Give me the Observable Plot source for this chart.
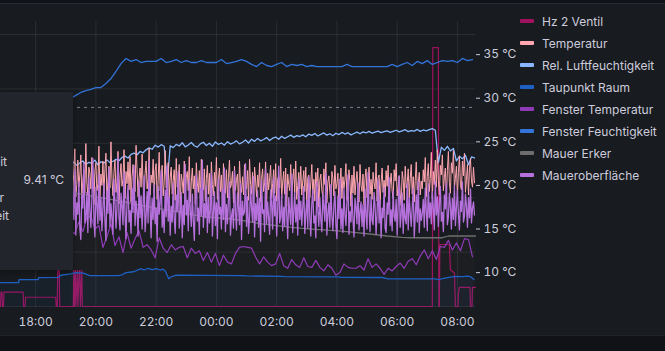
<!DOCTYPE html>
<html><head><meta charset="utf-8">
<script src="https://cdn.jsdelivr.net/npm/d3@7"></script>
<script src="https://cdn.jsdelivr.net/npm/@observablehq/plot@0.6"></script>
<style>
html,body{margin:0;padding:0;background:#111217;width:665px;height:351px;overflow:hidden;font-family:Inter,"Noto Sans",sans-serif;}
#wrap{position:relative;width:665px;height:351px;overflow:hidden;}
#panel{position:absolute;left:-2px;top:3px;width:672px;height:333px;background:#181b1f;border-top:1px solid #25282e;border-bottom:1px solid #202227;box-sizing:border-box;}
.layer{position:absolute;left:0;top:0;}
#tip{position:absolute;left:0;top:92px;width:73px;height:178px;background:#22252b;overflow:hidden;box-shadow:0 2px 6px rgba(0,0,0,0.35);}
#tip span{position:absolute;white-space:nowrap;color:#ccccdc;font-size:12px;line-height:16px;}
#legend{position:absolute;left:520px;top:10px;}
.li{position:relative;height:22px;display:flex;align-items:center;}
.sw{width:14px;height:4px;border-radius:1px;margin-right:8px;}
.lt{color:#ccccdc;font-size:12px;white-space:nowrap;}
</style></head>
<body><div id="wrap"><div id="panel"></div></div>
<script>
// ---------- data ----------
const seriesNames = ["Hz 2 Ventil","Temperatur","Rel. Luftfeuchtigkeit","Taupunkt Raum","Fenster Temperatur","Fenster Feuchtigkeit","Mauer Erker","Maueroberfläche"];
const seriesColors = ["#a0125f","#ffa6b0","#8ab8ff","#1f60c4","#8f3bb8","#3274d9","#6e6e6e","#b671dc"];
const xTickLabels = ["18:00","20:00","22:00","00:00","02:00","04:00","06:00","08:00"];
const degTicks = [10,15,20,25,30,35];
const pctGrid = [0,20,40,60,80,100];
const threshold = [73.2];

const noisyStart = "19:10";
const denseStep = 2;
const temperatur = [
 20.8,22.4,19.3,21.6,24.2,18.7,20.1,22.9,19.8,21.2,
 23.5,18.4,20.6,21.8,19.1,24.8,20.3,18.9,22.1,21.4,
 19.6,23.2,20.9,17.8,21.7,22.6,19.4,20.2,24.5,18.6,
 21.3,20.0,22.8,19.0,21.9,23.7,18.3,20.5,22.2,19.7,
 25.0,20.7,18.8,21.5,22.9,19.2,20.4,23.9,17.9,21.1,
 22.5,19.9,20.8,24.1,18.5,21.6,20.2,22.7,19.5,23.3,
 18.1,21.0,22.4,20.6,19.3,24.6,21.8,18.7,20.9,22.0,
 19.8,23.6,20.1,18.2,21.4,22.8,19.6,20.7,24.3,18.9,
 21.2,20.3,23.0,19.1,21.7,22.5,18.4,20.6,23.8,19.4,
 21.0,22.3,18.8,20.4,24.0,19.7,21.5,22.6,18.6,20.9,
 22.1,19.0,20.6,21.8,18.3,23.1,19.8,20.2,22.4,17.6,
 21.3,20.5,19.1,22.8,18.7,20.9,21.6,19.4,23.3,18.1,
 20.4,22.0,19.6,21.1,17.9,22.6,20.3,19.2,21.7,18.5,
 23.0,20.0,19.5,21.9,18.2,20.8,22.3,19.0,21.4,17.5,
 22.7,20.1,18.8,21.5,19.9,23.2,18.4,20.6,22.0,19.3,
 21.2,17.8,22.5,20.4,19.1,21.8,18.6,20.9,22.9,19.7,
 20.2,21.6,18.0,22.2,19.4,20.7,21.3,17.7,22.8,20.0,
 19.2,21.0,18.9,22.4,20.5,19.6,21.7,18.3,23.0,20.1,
 19.0,21.5,17.4,22.1,20.6,18.7,21.2,19.8,22.6,18.1,
 20.8,21.9,19.3,20.3,22.7,17.9,21.4,19.5,20.9,22.3,
 18.6,20.2,21.8,19.1,22.5,18.2,20.7,21.1,19.7,23.1,
 18.5,20.4,21.6,19.0,22.0,17.6,21.3,20.1,19.4,22.4,
 18.8,20.6,21.9,19.2,22.8,18.4,20.0,21.5,19.6,22.2,
 18.9,20.5,21.7,19.3,22.1,17.8,20.9,21.2,18.6,20.3,
 22.4,19.0,20.7,18.2,21.5,19.8,22.0,17.5,20.6,21.3,
 19.4,18.7,21.9,20.1,22.6,18.0,20.4,21.1,19.2,17.9,
 21.6,20.8,18.8,22.3,19.6,20.2,21.4,17.7,20.0,22.0,
 18.5,21.0,19.7,20.6,22.5,18.3,19.9,21.8,20.4,17.6,
 21.2,19.1,22.2,18.9,20.5,21.6,19.5,18.1,22.4,20.0,
 19.3,21.3,17.8,20.8,21.9,18.6,20.2,22.1,19.0,20.7,
 18.4,21.5,20.3,19.6,22.6,18.2,20.9,21.2,17.9,20.4,
 22.0,19.2,20.6,18.7,21.7,19.9,22.3,18.0,20.1,21.4,
 19.4,18.5,21.8,20.5,22.5,18.8,20.0,21.1,19.1,17.7,
 21.6,20.7,18.3,22.2,19.7,20.3,21.9,18.6,20.8,22.4,
 19.0,21.0,18.1,20.6,22.7,19.5,20.2,21.5,18.9,20.5,
 19.6,21.8,20.4,23.2,18.7,21.0,22.5,19.3,20.8,23.8,
 18.5,21.6,20.1,22.9,19.8,24.1,20.6,18.9,22.3,21.2,
 23.5,19.4,20.9,22.0,18.6,21.7,23.9,20.3,19.1,22.6,
 21.4,24.0,19.7,20.8,22.2,18.8,21.5,23.4,20.0,19.5,
 22.8,21.1,23.7,19.2,20.7,22.4,18.9,21.9,23.1,20.5,
 19.8,22.1,20.3];
const maueroberflaeche = [
 17.2,15.4,19.6,16.1,21.8,14.3,18.0,16.7,20.4,15.0,
 13.8,18.9,17.4,22.6,15.7,16.3,19.2,14.6,20.9,17.0,
 15.2,18.4,23.1,16.5,14.1,19.8,17.7,15.6,21.3,16.0,
 18.6,14.8,17.3,20.2,15.9,13.7,19.4,16.8,22.0,15.3,
 17.9,16.2,14.4,20.7,18.1,15.1,17.5,23.3,16.4,14.9,
 19.1,17.6,15.5,21.5,16.6,13.9,18.3,20.0,15.8,17.1,
 14.5,19.7,16.9,22.3,15.4,18.2,17.0,14.2,20.5,16.3,
 18.8,15.0,17.8,21.1,14.7,16.5,19.3,15.7,22.8,17.3,
 14.0,18.5,16.1,20.1,15.6,17.4,13.6,19.9,16.7,18.0,
 21.7,15.2,17.1,14.6,19.5,16.4,22.2,15.9,18.7,14.3,
 17.6,15.8,20.3,16.2,14.5,18.9,17.0,21.6,15.1,16.8,
 19.2,14.0,17.7,15.5,22.4,16.6,18.3,14.8,20.6,17.2,
 15.3,19.0,16.0,13.7,18.1,21.2,15.9,17.4,14.4,19.7,
 16.5,22.9,15.2,17.9,16.3,20.0,14.6,18.6,15.7,17.1,
 21.4,14.2,16.9,19.3,15.4,18.0,13.9,20.8,16.7,17.5,
 15.0,19.6,16.1,22.0,14.7,17.8,15.6,18.4,20.4,14.3,
 16.4,17.3,15.1,21.7,16.9,14.9,19.1,17.6,15.5,20.2,
 13.8,18.2,16.6,17.0,22.5,15.3,18.7,14.5,16.2,19.8,
 17.4,15.8,21.0,14.1,17.9,16.0,19.4,15.2,18.5,13.6,
 20.6,16.8,17.2,14.7,21.9,15.6,18.1,16.3,14.4,19.5,
 17.7,15.0,20.9,16.5,18.8,14.2,17.1,22.2,15.7,16.4,
 19.0,14.8,17.5,15.3,20.3,16.7,13.9,18.6,17.0,15.5,
 21.3,14.6,16.9,19.2,15.8,17.8,14.3,20.7,16.1,18.2,
 15.4,17.6,19.9,14.5,16.8,18.3,15.1,21.0,16.3,14.2,
 17.9,19.5,15.7,16.5,14.0,20.4,17.2,15.3,18.6,16.0,
 14.7,19.1,17.4,15.9,21.4,14.3,16.7,18.0,15.2,20.1,
 16.4,14.8,17.7,19.3,15.5,13.9,18.8,16.2,20.7,15.0,
 17.3,14.6,19.7,16.6,15.4,18.2,21.2,14.4,17.0,15.8,
 19.0,16.1,14.1,18.5,17.5,15.6,20.3,14.9,16.9,18.1,
 15.3,17.8,14.2,19.6,16.4,15.0,21.5,17.1,14.7,18.7,
 16.0,15.5,19.2,17.6,14.4,16.8,20.6,15.7,18.3,14.0,
 17.4,16.3,19.8,15.1,14.6,18.0,16.7,20.9,15.4,17.2,
 14.8,19.4,16.5,15.9,18.4,14.3,17.7,21.1,15.2,16.6,
 19.1,14.5,17.9,16.2,15.6,20.2,14.9,18.6,16.9,15.3,
 17.5,19.7,14.1,16.4,18.9,15.8,20.5,14.6,17.3,16.0,
 16.8,18.4,15.2,19.7,17.1,14.8,20.2,16.3,18.0,15.6,
 19.3,17.4,14.9,20.5,16.6,18.7,15.3,17.8,19.9,15.9,
 16.9,14.7,18.9,17.3,20.3,15.5,16.4,19.1,17.7,15.0,
 18.5,16.1,20.0,15.4,17.5,19.4,16.7,14.9,18.2,17.0,
 20.4,15.8,16.5,19.0,17.6,15.2,18.6,16.3,19.6,15.7,
 17.4,18.1,16.6];

const relStep = 6;
const relLuftfeuchtigkeit = [
 52.4,53.1,51.9,52.8,53.5,52.2,53.0,52.6,53.8,52.1,53.2,52.7,53.9,52.9,53.4,
 54.1,53.6,54.8,55.3,54.6,55.9,56.4,55.8,
 57.0,56.5,57.6,58.3,57.8,
 59.3,58.6,59.5,58.9,
 45.3,59.1,
 58.4,59.6,59.0,60.2,58.7,59.4,60.3,59.1,58.6,59.8,60.4,59.2,60.0,58.9,60.5,59.6,60.1,59.3,60.6,59.7,60.2,60.9,59.8,
 60.4,61.2,60.1,61.5,60.7,61.8,60.9,61.4,62.1,61.0,61.9,62.3,61.5,62.6,61.8,62.4,63.0,62.2,62.8,62.5,
 63.1,62.4,63.4,62.9,63.6,62.7,63.3,63.8,63.0,63.5,62.8,63.7,63.2,64.0,63.4,63.9,63.1,63.6,64.1,63.5,64.2,63.8,64.4,63.7,64.1,64.5,63.9,64.3,64.6,64.0,
 64.4,64.8,64.2,64.6,65.0,64.3,64.7,64.5,65.1,64.4,64.9,64.6,65.0,65.4,64.8,
 52.9,
 58.6,57.4,58.9,57.2,58.1,
 53.5,
 55.2,54.3,55.6,52.1,55.0,54.6];

const fensterTempStep = 8;
const fensterTemperatur = [
 14.6,14.5,15.8,14.7,16.3,16.5,15.0,15.4,12.9,14.1,
 15.6,13.1,14.1,12.3,14.6,12.8,13.9,14.8,12.9,13.2,
 12.6,11.7,14.0,12.8,12.3,13.2,12.6,12.9,13.0,11.7,
 12.8,12.2,12.5,11.4,12.3,11.2,12.2,10.8,12.0,11.2,
 11.0,12.2,12.9,13.0,12.9,12.8,11.8,11.0,11.8,11.2,
 10.8,11.0,12.2,10.8,10.5,11.5,10.9,10.6,11.7,10.7,
 10.6,11.4,10.6,10.2,10.9,10.5,9.7,10.0,11.0,10.6,
 10.5,10.5,10.8,10.3,11.6,10.6,11.0,10.5,9.8,10.5,
 10.2,10.7,11.1,10.5,11.3,11.6,10.9,11.9,12.6,11.6,
 12.5,11.5,13.0,12.9,13.7,12.6,13.4,12.5,13.9,13.8,
 11.8];

const fensterFeuchtStep = 10;
const fensterFeuchtigkeit = [
 76.5,77.6,78.7,79.4,79.8,80.5,80.5,82.0,83.8,86.4,
 89.3,91.2,90.1,90.8,89.7,90.1,90.1,90.1,91.2,89.7,
 90.1,90.8,89.7,90.4,89.7,89.7,90.4,89.7,89.7,89.7,
 90.8,89.3,89.7,90.1,90.8,90.1,89.0,88.2,89.7,88.6,
 88.2,89.0,89.7,88.2,89.0,88.6,89.0,88.2,88.6,88.2,
 88.2,88.2,88.2,88.2,88.2,89.0,88.2,88.2,88.2,88.2,
 88.2,88.2,88.2,88.2,89.0,88.2,89.0,89.7,88.6,90.1,
 89.3,90.4,89.0,89.7,90.4,90.1,90.4,89.7,91.2,90.4,90.8];

const taupunktRaum = [["16:50",8.85],["17:26",8.85],["17:27",9.2],["18:05",9.2],["18:06",9.43],["18:45",9.45],["18:50",9.7],["19:10",9.85],["19:20",10.0],["19:35",9.95],["19:48",9.66],["20:45",9.66],["20:52",9.75],["21:00",10.0],["21:15",10.1],["21:30",10.45],["21:36",10.3],["21:44",10.5],["21:52",10.35],["22:00",10.45],["22:08",10.3],["22:14",10.4],["22:19",10.1],["22:25",9.3],["22:31",9.55],["22:40",9.72],["00:50",9.65],["01:00",9.62],["02:10",9.58],["02:15",9.54],["04:00",9.52],["04:10",9.46],["05:30",9.44],["05:40",9.3],["07:15",9.28],["07:22",9.2],["07:30",9.3],["07:40",9.43],["07:56",9.58],["08:10",9.55],["08:20",9.6],["08:26",9.54],["08:33",9.2]];
const mauerErker = [["19:10",19.2],["20:10",18.6],["20:50",18.2],["21:30",17.7],["22:30",17.1],["23:30",16.45],["00:30",16.15],["01:00",15.9],["01:30",15.6],["02:30",15.2],["03:10",15.0],["03:50",14.85],["04:30",14.65],["05:10",14.4],["05:40",14.2],["06:10",14.05],["06:30",14.0],["07:30",14.0],["07:42",14.2],["08:36",14.2]];
const hz2Ventil = [["16:50",0],["16:51",5.3],["16:53",5.3],["16:54",0],["16:56",0],["16:57",5.3],["17:35",5.3],["17:36",0],["17:39",0],["17:40",3.4],["18:40",3.4],["18:41",0],["18:43",0],["18:44",13.2],["18:47",13.2],["18:48",0],["19:15",0],["19:16",13.2],["19:17",0],["19:19",13.2],["19:20",0],["19:23",13.2],["19:24",0],["19:27",13.2],["19:28",13.2],["19:29",0],["19:32",13.2],["19:33",0],["19:35",0],["07:10",0],["07:11",95.2],["07:22",95.2],["07:23",0],["07:24",0],["07:25",22.8],["07:44",22.8],["07:46",13.5],["07:54",12.3],["07:56",0],["08:01",0],["08:02",5.0],["08:04",7.0],["08:25",7.0],["08:26",0],["08:29",0],["08:30",7.0],["08:36",7.0]];

const tooltipValue = "9.41 °C";
const xStart = "16:50", xEnd = "08:36";

// ---------- helpers ----------
const toDate = s => { const [h,m] = s.split(":").map(Number); return new Date(Date.UTC(2024,0,h>=12?1:2,h,m)); };
const uniform = (start, step, vals) => { const t0 = toDate(start).getTime(); return vals.map((v,i)=>({t:new Date(t0+i*step*60000), v})); };
const pairs = arr => arr.map(([s,v]) => ({t:toDate(s), v}));
const C = Object.fromEntries(seriesNames.map((n,i)=>[n, seriesColors[i]]));

const W = 665, H = 336;
const common = {width:W, height:H, marginLeft:0, marginRight:190, marginTop:21, marginBottom:29,
  style:{background:"transparent", color:"#ccccdc", fontFamily:"Inter, sans-serif", fontSize:"12px", overflow:"visible"}};
const xDomain = [toDate(xStart), toDate(xEnd)];

const dTemp = uniform(noisyStart, denseStep, temperatur);
const dMauerOb = uniform(noisyStart, denseStep, maueroberflaeche);
const dRel = uniform(noisyStart, relStep, relLuftfeuchtigkeit);
const dFTemp = uniform(noisyStart, fensterTempStep, fensterTemperatur);
const dFFeucht = uniform(noisyStart, fensterFeuchtStep, fensterFeuchtigkeit);
const dTau = pairs(taupunktRaum);
const dErker = pairs(mauerErker);
const dVentil = pairs(hz2Ventil);

const pct = Plot.plot({
  ...common,
  x:{domain:xDomain, ticks:xTickLabels.map(toDate), tickFormat:d3.utcFormat("%H:%M"), tickSize:0, tickPadding:10, grid:true, label:null},
  y:{domain:[-0.37,104.78], ticks:pctGrid, grid:true, tickSize:0, tickFormat:()=>"", label:null},
  marks:[
    Plot.ruleY(threshold, {stroke:"#7f838a", strokeDasharray:"3,4", strokeWidth:1}),
    Plot.line(dVentil, {x:"t", y:"v", stroke:C["Hz 2 Ventil"], strokeWidth:1.2}),
    Plot.line(dRel, {x:"t", y:"v", stroke:C["Rel. Luftfeuchtigkeit"], strokeWidth:1.3}),
    Plot.line(dFFeucht, {x:"t", y:"v", stroke:C["Fenster Feuchtigkeit"], strokeWidth:1.3})
  ]
});
const deg = Plot.plot({
  ...common,
  x:{domain:xDomain, axis:null},
  y:{domain:[6.0,38.8], axis:"right", ticks:degTicks, tickFormat:d=>`${d} °C`, tickSize:4, tickPadding:4, label:null},
  marks:[
    Plot.areaY(dTau, {x:"t", y:"v", fill:C["Taupunkt Raum"], fillOpacity:0.07, clip:true}),
    Plot.areaY(dErker, {x:"t", y:"v", fill:"#888888", fillOpacity:0.04, clip:true}),
    Plot.line(dTemp, {x:"t", y:"v", stroke:C["Temperatur"], strokeWidth:1}),
    Plot.line(dTau, {x:"t", y:"v", stroke:C["Taupunkt Raum"], strokeWidth:1.3}),
    Plot.line(dFTemp, {x:"t", y:"v", stroke:C["Fenster Temperatur"], strokeWidth:1.2}),
    Plot.line(dErker, {x:"t", y:"v", stroke:C["Mauer Erker"], strokeWidth:1.3}),
    Plot.line(dMauerOb, {x:"t", y:"v", stroke:C["Maueroberfläche"], strokeWidth:1.3})
  ]
});
const wrap = document.getElementById("wrap");
[pct, deg].forEach(s => { s.classList.add("layer"); wrap.appendChild(s); });

const tip = document.createElement("div"); tip.id = "tip";
const tipRows = [
  {text:"Rel. Luftfeuchtigkeit", end:7, y:162},
  {text:tooltipValue, end:64, y:180},
  {text:"Fenster Temperatur", end:4, y:198},
  {text:"Fenster Feuchtigkeit", end:9, y:216}
];
tipRows.forEach(r => { const s = document.createElement("span"); s.textContent = r.text; s.style.right = (73 - r.end) + "px"; s.style.top = (r.y - 92 - 8) + "px"; tip.appendChild(s); });
wrap.appendChild(tip);

const lg = document.createElement("div"); lg.id = "legend";
seriesNames.forEach((n,i) => {
  const li = document.createElement("div"); li.className = "li";
  li.innerHTML = `<div class="sw" style="background:${seriesColors[i]}"></div><span class="lt">${n}</span>`;
  lg.appendChild(li);
});
wrap.appendChild(lg);
</script>
</body></html>
